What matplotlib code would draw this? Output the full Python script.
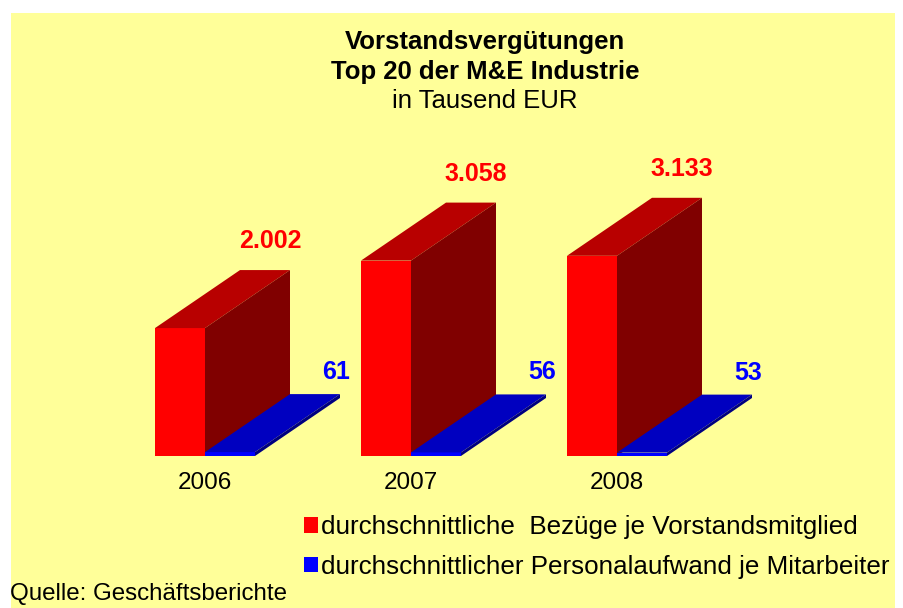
import matplotlib.pyplot as plt
from matplotlib.patches import Polygon, Rectangle, Patch

# data
years = ['2006', '2007', '2008']
bezuege = [2002, 3058, 3133]          # durchschnittliche Bezüge je Vorstandsmitglied
personal = [61, 56, 53]               # durchschnittlicher Personalaufwand je Mitarbeiter
labels_bez = ['2.002', '3.058', '3.133']
labels_pers = ['61', '56', '53']

W, H = 904, 608
fig = plt.figure(figsize=(W / 100, H / 100), dpi=100)
fig.patch.set_facecolor('white')
plt.rcParams['font.family'] = ['Liberation Sans', 'DejaVu Sans']

# yellow plot background
fig.patches.append(Rectangle((11 / W, 0), 884 / W, (H - 13) / H,
                             transform=fig.transFigure, facecolor='#FFFF99',
                             edgecolor='none', zorder=-5))

# full-figure axes, x in categories, y in values
ax = fig.add_axes([0, 0, 1, 1])
ax.set_facecolor('none')
ax.axis('off')
step = 206.0          # px per category
px_per_val = 0.0639   # px per value unit
x0_px, y0_px = 205.0, H - 456.0
ax.set_xlim(-x0_px / step, (W - x0_px) / step)
ax.set_ylim(-y0_px / px_per_val, (H - y0_px) / px_per_val)

bar_w = 50 / step
dx = 85 / step
dy = 58 / px_per_val


def bar3d(x_left, h, front, top, side):
    xl, xr = x_left, x_left + bar_w
    ax.add_patch(Polygon([(xl, 0), (xr, 0), (xr, h), (xl, h)], closed=True,
                         facecolor=front, edgecolor='none', zorder=2))
    ax.add_patch(Polygon([(xl, h), (xr, h), (xr + dx, h + dy), (xl + dx, h + dy)],
                         closed=True, facecolor=top, edgecolor='none', zorder=2))
    ax.add_patch(Polygon([(xr, 0), (xr + dx, dy), (xr + dx, h + dy), (xr, h)],
                         closed=True, facecolor=side, edgecolor='none', zorder=2))


for i in range(len(years)):
    bar3d(i - bar_w, bezuege[i], '#FF0000', '#B80000', '#800000')
    bar3d(i, personal[i], '#0000FF', '#0000C0', '#000080')
    # value labels above the back top edge
    ax.annotate(labels_bez[i], (i - bar_w / 2 + dx, bezuege[i] + dy),
                xytext=(5, 29), textcoords='offset pixels', ha='center', va='center',
                color='#FF0000', fontsize=18, fontweight='bold')
    ax.annotate(labels_pers[i], (i + bar_w / 2 + dx, personal[i] + dy),
                xytext=(21, 22), textcoords='offset pixels', ha='center', va='center',
                color='#0000FF', fontsize=18, fontweight='bold')
    ax.annotate(years[i], (i, 0), xytext=(0, -27), textcoords='offset pixels',
                ha='center', va='center', fontsize=17.5, color='black')

# titles
tx = 485 / W
fig.text(tx, 1 - 42 / H, 'Vorstandsvergütungen', ha='center', va='center',
         fontsize=18.5, fontweight='bold')
fig.text(tx, 1 - 72 / H, 'Top 20 der M&E Industrie', ha='center', va='center',
         fontsize=18.5, fontweight='bold')
fig.text(tx, 1 - 101 / H, 'in Tausend EUR', ha='center', va='center', fontsize=18.5)

# legend
handles = [Patch(facecolor='#FF0000', edgecolor='none'),
           Patch(facecolor='#0000FF', edgecolor='none')]
fig.legend(handles, ['durchschnittliche  Bezüge je Vorstandsmitglied',
                     'durchschnittlicher Personalaufwand je Mitarbeiter'],
           loc='upper left', bbox_to_anchor=(304 / W, 1 - 515 / H), frameon=False,
           fontsize=18.7, handlelength=0.55, handleheight=0.55, handletextpad=0.1,
           labelspacing=0.6, borderpad=0, borderaxespad=0)

fig.text(10 / W, 1 - 594 / H, 'Quelle: Geschäftsberichte', ha='left', va='center',
         fontsize=17.4)

fig.savefig('out.png', dpi=100, facecolor=fig.get_facecolor())
